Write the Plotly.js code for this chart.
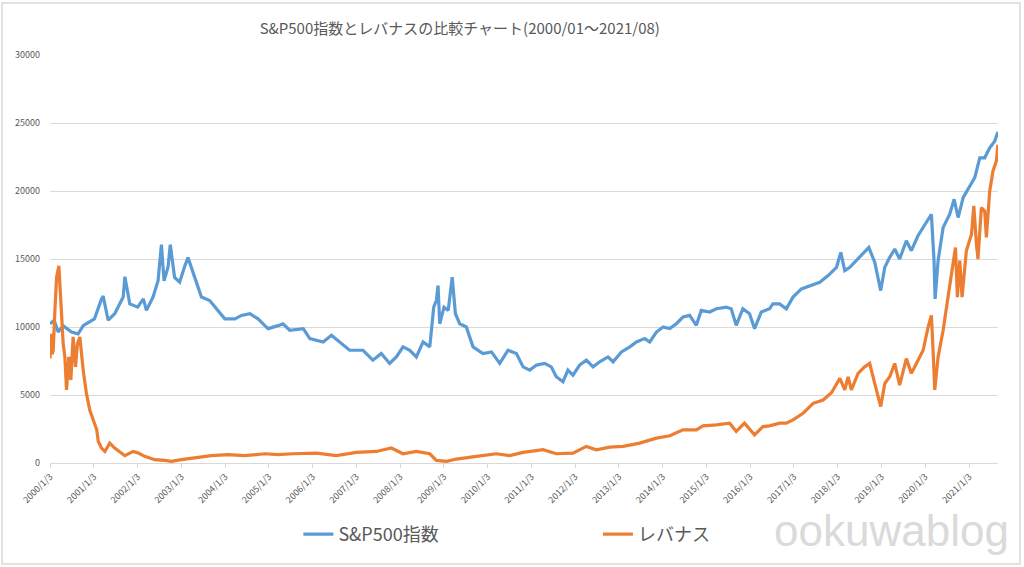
<!DOCTYPE html>
<html>
<head>
<meta charset="utf-8">
<script src="https://cdn.plot.ly/plotly-3.0.1.min.js"></script>
<style>
html,body{margin:0;padding:0;background:#fff;}
#chart{width:1024px;height:567px;}
</style>
</head>
<body>
<div id="chart"></div>
<script>
// ---- data ----
const spDates = [
"2000-01-03","2000-02-07","2000-03-11","2000-04-22","2000-06-30","2000-08-25","2000-10-06",
"2001-01-08","2001-03-08","2001-03-22","2001-05-02","2001-06-26","2001-09-05","2001-09-19","2001-10-30",
"2002-01-04","2002-02-20","2002-03-18","2002-05-12","2002-06-23","2002-07-21","2002-08-12","2002-09-14",
"2002-10-03","2002-11-08","2002-12-20","2003-02-02","2003-02-28","2003-04-25","2003-06-20","2003-08-28",
"2003-11-05","2004-01-01","2004-03-25","2004-05-19","2004-07-28","2004-10-05","2004-11-30","2004-12-28",
"2005-03-21","2005-05-01","2005-06-26","2005-10-17","2005-12-11","2006-04-01","2006-06-09","2006-08-17",
"2006-11-08","2007-02-28","2007-05-21","2007-07-30","2007-10-08","2007-12-03","2008-01-28","2008-03-24",
"2008-05-18","2008-07-13","2008-09-07","2008-10-10","2008-11-01","2008-11-15","2008-11-29","2009-01-04",
"2009-02-08","2009-03-13","2009-04-09","2009-05-15","2009-07-09","2009-09-03","2009-11-25","2010-02-04",
"2010-04-14","2010-06-22","2010-08-31","2010-10-26","2010-12-21","2011-02-15","2011-04-24","2011-06-18",
"2011-07-30","2011-09-24","2011-11-04","2011-12-16","2012-02-10","2012-04-06","2012-06-01","2012-07-26",
"2012-10-04","2012-11-15","2013-01-24","2013-04-04","2013-05-29","2013-08-06","2013-09-17","2013-11-12",
"2014-01-06","2014-03-03","2014-04-27","2014-06-22","2014-08-16","2014-10-11","2014-11-21","2015-01-30",
"2015-03-27","2015-06-18","2015-07-29","2015-09-09","2015-11-03","2015-12-29","2016-02-09","2016-04-05",
"2016-06-13","2016-07-11","2016-09-05","2016-10-31","2016-12-26","2017-03-06","2017-05-15","2017-08-06",
"2017-10-15","2017-12-24","2018-01-29","2018-03-03","2018-04-14","2018-06-09","2018-08-03","2018-09-20",
"2018-11-08","2018-12-28","2019-01-31","2019-03-13","2019-04-24","2019-06-04","2019-07-30","2019-09-10",
"2019-11-04","2019-12-31","2020-02-24","2020-03-17","2020-03-26","2020-04-20","2020-06-01","2020-07-26",
"2020-09-01","2020-10-04","2020-11-15","2021-01-10","2021-02-20","2021-04-03","2021-05-14","2021-06-25",
"2021-08-05","2021-09-01"
];
const spValues = [
10240,10500,9630,10100,9630,9500,10100,
10600,12070,12270,10500,10975,12200,13700,11700,
11460,12070,11220,12200,13400,16050,13400,14400,
16050,13650,13300,14500,15100,13650,12200,11950,
11220,10600,10600,10850,10975,10600,10100,9880,
10100,10240,9760,9880,9150,8900,9390,8900,
8290,8290,7560,8050,7320,7800,8540,8290,
7800,8900,8540,11460,11950,13050,10240,11460,
11220,13660,10975,10240,10000,8540,8050,8170,
7320,8290,8050,7070,6830,7200,7320,7070,
6340,5975,6830,6460,7200,7560,7070,7440,
7800,7440,8170,8540,8900,9150,8900,9630,
10000,9880,10240,10730,10850,10120,11220,11100,
11340,11460,11340,10120,11340,10975,9880,11100,
11340,11700,11700,11340,12200,12800,13050,13290,
13780,14390,15490,14150,14390,14880,15370,15850,
14760,12680,14390,15120,15730,15000,16340,15610,
16710,17560,18290,14880,12070,14880,17320,18290,
19390,18050,19510,20370,20980,22440,22440,23170,
23660,24340
];

const lvDates = [
"2000-01-03","2000-01-11","2000-01-22","2000-01-30","2000-02-13","2000-02-27","2000-03-17","2000-04-03",
"2000-04-22","2000-05-06","2000-05-20","2000-06-08","2000-06-25","2000-07-14","2000-08-03","2000-08-19",
"2000-09-08","2000-10-06","2000-11-02","2000-11-30","2001-01-08","2001-01-27","2001-02-09","2001-03-08",
"2001-04-05","2001-05-16","2001-06-26","2001-08-21","2001-09-19","2001-11-27","2002-01-09","2002-03-04",
"2002-05-26","2002-08-18","2002-10-12","2003-01-05","2003-04-25","2003-09-10","2004-01-29","2004-06-16",
"2004-11-30","2005-03-21","2005-07-23","2006-02-04","2006-07-20","2007-01-03","2007-06-19","2007-10-22",
"2008-01-28","2008-05-18","2008-09-07","2008-11-01","2009-01-25","2009-04-18","2009-10-01","2010-03-17",
"2010-07-06","2010-10-26","2011-04-10","2011-07-30","2011-12-16","2012-04-06","2012-06-28","2012-10-18",
"2013-02-07","2013-06-25","2013-11-12","2014-03-03","2014-06-22","2014-10-11","2014-12-06","2015-03-27",
"2015-07-16","2015-09-09","2015-11-17","2016-02-09","2016-04-19","2016-06-13","2016-09-05","2016-10-31",
"2016-12-26","2017-03-20","2017-06-12","2017-09-03","2017-11-12","2018-01-21","2018-03-03","2018-03-31",
"2018-04-27","2018-06-22","2018-08-16","2018-09-27","2018-11-08","2018-12-28","2019-01-31","2019-03-13",
"2019-04-24","2019-06-04","2019-07-30","2019-09-10","2019-10-22","2019-12-17","2020-01-28","2020-02-24",
"2020-03-09","2020-03-23","2020-04-20","2020-06-01","2020-07-12","2020-08-23","2020-09-12","2020-09-28",
"2020-10-18","2020-11-06","2020-12-12","2021-01-24","2021-02-12","2021-03-06","2021-03-19","2021-04-16",
"2021-05-14","2021-05-28","2021-06-25","2021-07-22","2021-08-19","2021-09-01"
];
const lvValues = [
7680,9500,8000,8290,11220,13660,14500,11460,
8780,7800,5370,7800,6100,9270,7070,8780,
9270,6830,5120,3900,2930,2440,1585,1100,
850,1460,1100,730,540,850,730,490,
245,195,120,245,366,540,610,540,
680,610,680,730,540,780,850,1100,
680,850,680,195,120,290,490,680,
540,780,975,680,730,1220,975,1170,
1220,1460,1830,2000,2440,2440,2730,2800,
2930,2320,2930,2070,2680,2730,2930,2930,
3170,3660,4390,4630,5170,6220,5370,6340,
5370,6590,7070,7320,5850,4150,5850,6340,
7320,5730,7680,6590,7320,8290,10000,10850,
8290,5370,7800,9760,12200,14880,15850,12200,
14880,12200,15610,16830,18900,16100,15000,18780,
18540,16590,20000,21460,22200,23410
];

const seriesNames = ["S&P500指数", "レバナス"];
const tickDates = ["2000-01-03","2001-01-03","2002-01-03","2003-01-03","2004-01-03","2005-01-03","2006-01-03",
  "2007-01-03","2008-01-03","2009-01-03","2010-01-03","2011-01-03","2012-01-03","2013-01-03","2014-01-03",
  "2015-01-03","2016-01-03","2017-01-03","2018-01-03","2019-01-03","2020-01-03","2021-01-03"];
const tickLabels = ["2000/1/3","2001/1/3","2002/1/3","2003/1/3","2004/1/3","2005/1/3","2006/1/3",
  "2007/1/3","2008/1/3","2009/1/3","2010/1/3","2011/1/3","2012/1/3","2013/1/3","2014/1/3",
  "2015/1/3","2016/1/3","2017/1/3","2018/1/3","2019/1/3","2020/1/3","2021/1/3"];
const yTicks = [0,5000,10000,15000,20000,25000,30000];
const chartTitle = "S&P500指数とレバナスの比較チャート(2000/01～2021/08)";
const watermark = "ookuwablog";

// ---- chart ----
const font = "'Noto Sans CJK JP','Noto Sans',sans-serif";
const traces = [
  {x: spDates, y: spValues, name: seriesNames[0], type: "scatter", mode: "lines",
   line: {color: "#5B9BD5", width: 3.2}, legend: "legend"},
  {x: lvDates, y: lvValues, name: seriesNames[1], type: "scatter", mode: "lines",
   line: {color: "#ED7D31", width: 3.2}, legend: "legend2"}
];

const layout = {
  width: 1024, height: 567,
  margin: {l: 50, r: 26, t: 55, b: 104},
  paper_bgcolor: "#fff", plot_bgcolor: "#fff",
  font: {family: font, color: "#595959"},
  title: {text: chartTitle, x: 0.449, xref: "container", xanchor: "center",
          y: 0.95, yref: "container", yanchor: "middle",
          font: {size: 15, color: "#595959", family: font}},
  xaxis: {type: "date", range: ["2000-01-03", "2021-09-02"],
          tickmode: "array", tickvals: tickDates, ticktext: tickLabels,
          tickangle: -45, tickfont: {size: 9, color: "#595959"},
          showgrid: false, showline: true, linecolor: "#d9d9d9", linewidth: 1,
          ticks: "outside", ticklen: 4, tickcolor: "#d9d9d9", zeroline: false},
  yaxis: {range: [0, 30000], tickmode: "array", tickvals: yTicks,
          ticktext: yTicks.map(String),
          tickfont: {size: 9, color: "#595959"},
          showgrid: true, gridcolor: "#d9d9d9", gridwidth: 1,
          zeroline: false, showline: false, ticks: "", ticklabelstandoff: 9},
  showlegend: true,
  legend: {x: 0.262, xanchor: "left", y: -0.175, yanchor: "middle",
           orientation: "h", font: {size: 18, color: "#595959", family: font},
           bgcolor: "rgba(0,0,0,0)"},
  legend2: {x: 0.578, xanchor: "left", y: -0.175, yanchor: "middle",
           orientation: "h", font: {size: 18, color: "#595959", family: font},
           bgcolor: "rgba(0,0,0,0)"},
  annotations: [
    {text: watermark, xref: "paper", yref: "paper", x: 0.888, y: -0.165,
     xanchor: "center", yanchor: "middle", showarrow: false,
     font: {size: 44, color: "#dadada", family: "'Liberation Sans',Arial,sans-serif"}}
  ],
  shapes: [
    {type: "rect", xref: "paper", yref: "paper",
     x0: -48/948, x1: 1 + 22/948, y0: -101/408, y1: 1 + 52/408,
     line: {color: "#d9d9d9", width: 1.5}, fillcolor: "rgba(0,0,0,0)", layer: "below"}
  ]
};

Plotly.newPlot("chart", traces, layout, {displayModeBar: false, staticPlot: true});
</script>
</body>
</html>
